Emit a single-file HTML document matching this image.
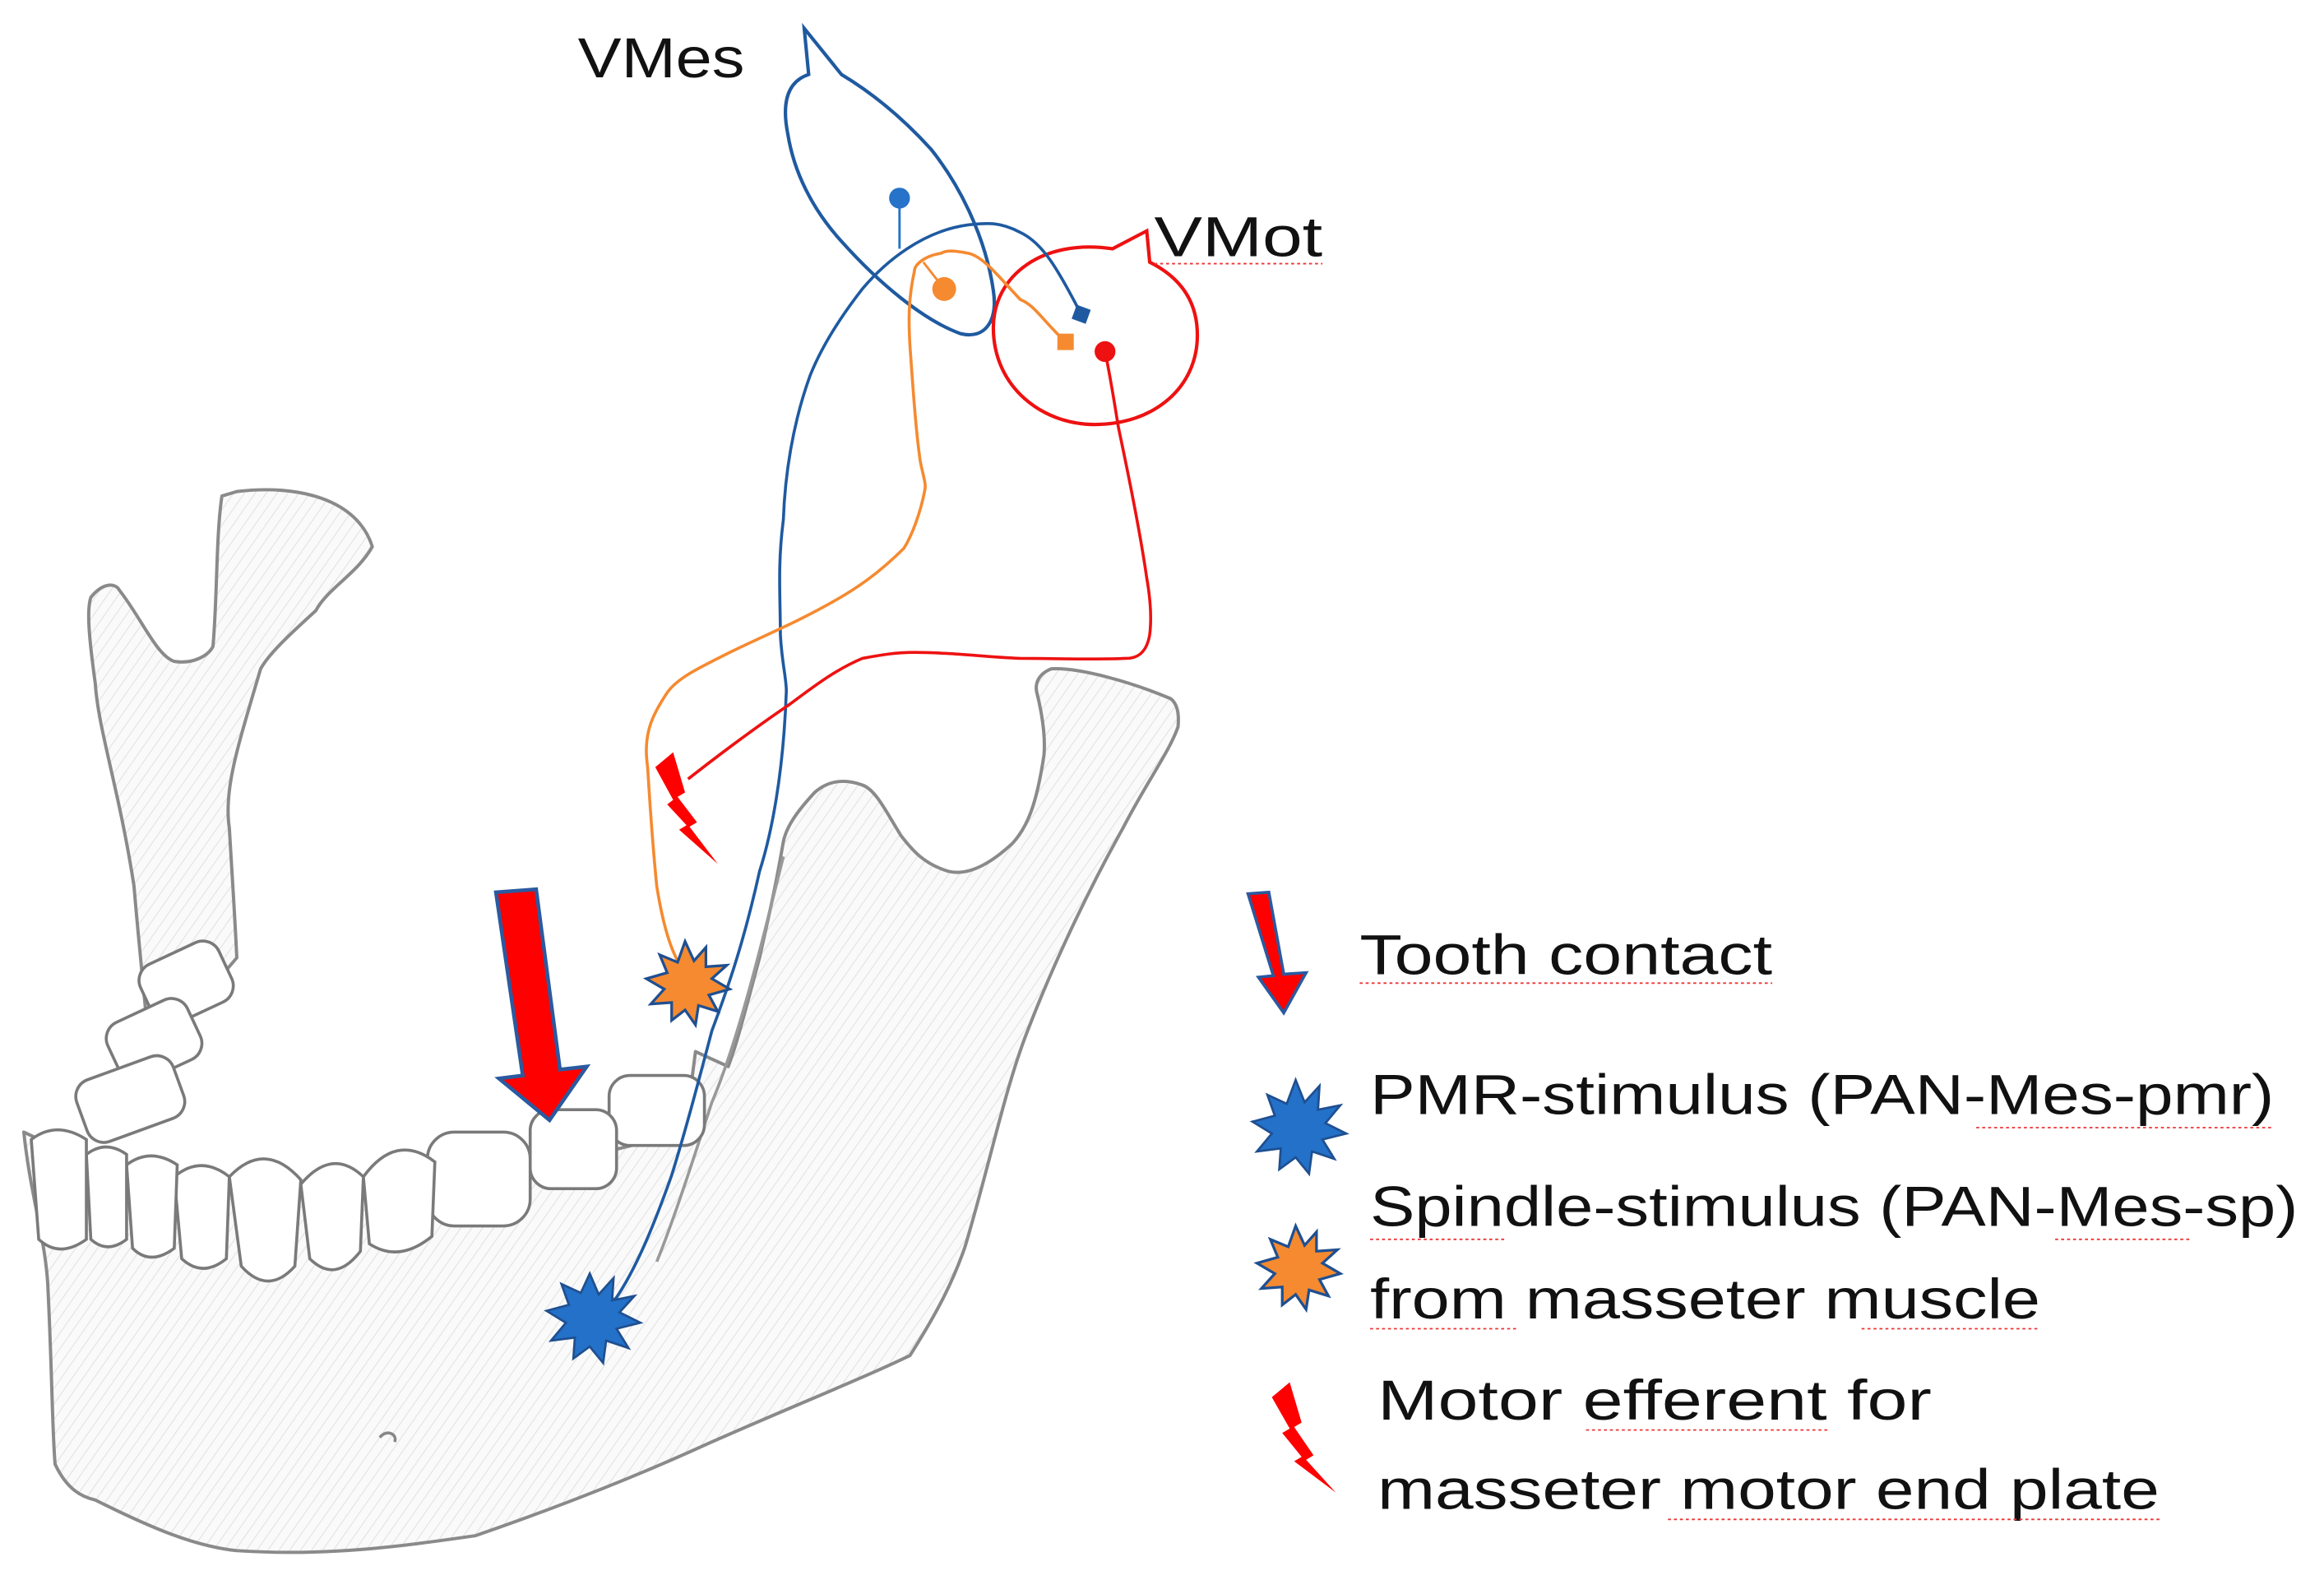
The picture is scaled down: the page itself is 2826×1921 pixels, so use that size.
<!DOCTYPE html>
<html><head><meta charset="utf-8"><style>html,body{margin:0;padding:0;background:#fff}svg{display:block}</style></head>
<body>
<svg width="2826" height="1921" viewBox="0 0 1560.5 1060.7" preserveAspectRatio="none" xmlns="http://www.w3.org/2000/svg">
<defs>
<pattern id="h" width="6" height="6" patternUnits="userSpaceOnUse" patternTransform="rotate(35)">
<rect width="6" height="6" fill="#fafafa"/><line x1="0" y1="0" x2="0" y2="6" stroke="#e2e2e2" stroke-width="1.2"/></pattern>
</defs>
<g stroke="#8a8a8a" stroke-width="2.2" fill="url(#h)" stroke-linejoin="round">
<path d="M159,330 C200,325 240,335 250,367 C240,385 220,395 212,410 C190,430 180,440 175,449 C160,500 150,530 154,556 C156,590 158,620 159,643 L101,711 C95,650 92,620 90,595 C80,530 66,490 64,459 C60,430 58,410 61,401 C70,390 78,392 80,396 C95,415 105,440 117,444 C130,446 140,440 143,434 C146,400 145,360 149,333 Z"/>
<path d="M16,760 C20,800 30,830 32,861 C35,920 35,960 37,983 C45,1000 55,1005 64,1007 C100,1025 130,1038 159,1041 C220,1045 270,1038 319,1031 C380,1010 430,990 478,968 C530,945 580,925 611,910 C630,880 640,860 648,837 C665,780 675,730 690,692 C710,640 735,590 754,556 C770,525 785,505 791,488 C792,478 790,472 786,469 C760,458 725,448 706,449 C698,452 695,458 696,464 C700,480 702,495 701,507 C696,540 690,555 680,566 C665,580 650,588 637,585 C620,580 612,570 605,561 C595,545 588,530 579,527 C565,522 555,525 547,532 C535,545 528,555 526,565 C520,600 515,620 510,643 C500,680 495,700 489,716 L467,706 L460,760 L300,800 L100,800 Z"/>
</g>
<path d="M526,575 C510,640 495,700 478,740 C465,780 452,820 441,847" stroke="#999" stroke-width="2" fill="none"/>
<path d="M255,965 c5,-6 12,-2 10,3" stroke="#888" stroke-width="2" fill="none"/>
<g stroke="#7a7a7a" stroke-width="2" fill="#fff">
<rect x="96" y="638" width="58" height="44" rx="12" transform="rotate(-25 125 660)"/>
<rect x="74" y="677" width="59" height="44" rx="12" transform="rotate(-25 103 699)"/>
<rect x="53" y="716" width="69" height="44" rx="12" transform="rotate(-20 87 738)"/>
<rect x="409" y="722" width="64" height="47" rx="14"/>
<rect x="356" y="745" width="58" height="53" rx="14"/>
<rect x="287" y="760" width="69" height="63" rx="18"/>
<path d="M244,790 Q266,760 292,780 L290,830 Q268,848 248,835 Z"/>
<path d="M202,795 Q223,770 244,790 L242,840 Q225,862 208,845 Z"/>
<path d="M154,790 Q178,765 202,792 L198,850 Q180,870 162,850 Z"/>
<path d="M117,790 Q135,775 154,790 L152,845 Q136,858 122,845 Z"/>
<path d="M85,782 Q101,770 119,782 L117,838 Q101,850 89,838 Z"/>
<path d="M58,775 Q71,765 85,775 L85,832 Q72,842 61,832 Z"/>
<path d="M21,765 Q38,752 58,765 L58,832 Q40,845 26,832 Z"/>
</g>
<path d="M540,19 L543,50 C528,55 525,70 529,90 C533,115 545,140 565,162 C590,190 620,215 645,224 C662,228 670,215 667,195 C662,160 645,125 625,100 C605,78 585,62 565,50 Z" fill="none" stroke="#1f5aa0" stroke-width="2.3"/>
<circle cx="604" cy="133" r="7" fill="#2673c9"/>
<line x1="604" y1="133" x2="604" y2="167" stroke="#2673c9" stroke-width="1.6"/>
<path d="M747,167 C700,160 667,185 667,220 C667,260 700,285 735,285 C775,285 804,260 804,225 C804,200 790,185 772,176 L770,155 Z" fill="none" stroke="#ee1111" stroke-width="2.3"/>
<circle cx="742" cy="236" r="7" fill="#ee1111"/>
<path d="M726,211 C710,180 700,163 685,156 C670,148 660,150 650,151 C620,155 595,175 579,194 C565,212 552,232 544,252 C532,285 527,320 526,349 C522,380 524,400 524,426 C525,445 528,455 528,464 C526,520 518,560 510,585 C500,630 490,660 478,692 C468,730 460,760 451,789 C440,820 428,850 414,871 L398,885" fill="none" stroke="#1f5aa0" stroke-width="2"/>
<rect x="721" y="206" width="10" height="10" fill="#1f5aa0" transform="rotate(20 726 211)"/>
<path d="M715,229 C700,215 695,205 685,201 C670,185 660,172 650,170 C640,168 635,168 632,170 C620,172 614,178 614,182 C610,200 610,215 611,232 C613,260 615,290 618,310 C620,320 622,325 621,329 C618,345 612,360 607,368 C590,385 575,395 561,403 C535,418 510,428 490,438 C470,448 455,455 448,465 C438,480 434,490 434,504 C434,510 435,515 435,517 C437,550 439,575 441,595 C445,620 450,635 454,643 L459,658" fill="none" stroke="#f58a30" stroke-width="2"/>
<line x1="620" y1="176" x2="634" y2="194" stroke="#f58a30" stroke-width="1.6"/>
<circle cx="634" cy="194" r="8" fill="#f58a30"/>
<rect x="710" y="224" width="11" height="11" fill="#f58a30"/>
<path d="M742,236 C746,255 749,275 751,287 C758,320 766,360 770,388 C773,405 773,418 772,426 C770,438 764,442 756,442 C735,443 710,442 685,442 C660,441 640,438 614,438 C600,438 590,440 579,442 C560,450 545,462 530,473 C505,490 485,505 462,523" fill="none" stroke="#ee1111" stroke-width="2"/>
<polygon points="440,515 452,505 460,532 455,535 468,552 463,555 482,580 456,557 461,554 448,540 452,537" fill="#ff0000"/>
<polygon points="333,599 360,597 376,718 394,716 369,752 335,724 351,722" fill="#ff0000" stroke="#2a5aa0" stroke-width="2.5"/>
<polygon points="838,600 852,599 862,654 877,653 862,680 845,656 855,655" fill="#ff0000" stroke="#2a5aa0" stroke-width="2"/>
<polygon points="854,938 866,928 874,955 869,958 882,977 877,980 897,1002 869,981 874,978 861,962 866,959" fill="#ff0000"/>
<g font-family="'Liberation Sans', sans-serif" fill="#111">
<text x="388" y="52" font-size="38" textLength="112" lengthAdjust="spacingAndGlyphs">VMes</text>
<text x="775" y="172" font-size="38" textLength="113" lengthAdjust="spacingAndGlyphs">VMot</text>
<text x="913" y="654" font-size="38" textLength="277" lengthAdjust="spacingAndGlyphs">Tooth contact</text>
<text x="920" y="748" font-size="38" textLength="607" lengthAdjust="spacingAndGlyphs">PMR-stimulus (PAN-Mes-pmr)</text>
<text x="920" y="823" font-size="38" textLength="623" lengthAdjust="spacingAndGlyphs">Spindle-stimulus (PAN-Mes-sp)</text>
<text x="920" y="885" font-size="38" textLength="450" lengthAdjust="spacingAndGlyphs">from masseter muscle</text>
<text x="925" y="953" font-size="38" textLength="372" lengthAdjust="spacingAndGlyphs">Motor efferent for</text>
<text x="925" y="1013" font-size="38" textLength="525" lengthAdjust="spacingAndGlyphs">masseter motor end plate</text>
</g>
<g stroke="#e33" stroke-width="1" fill="none" stroke-dasharray="2 2">
<line x1="775" y1="177" x2="888" y2="177"/><line x1="913" y1="660" x2="1190" y2="660"/>
<line x1="1327" y1="757" x2="1527" y2="757"/><line x1="920" y1="832" x2="1010" y2="832"/><line x1="1380" y1="832" x2="1470" y2="832"/>
<line x1="920" y1="892" x2="1018" y2="892"/><line x1="1250" y1="892" x2="1370" y2="892"/>
<line x1="1065" y1="960" x2="1228" y2="960"/><line x1="1120" y1="1020" x2="1450" y2="1020"/>
</g>
<polygon points="396,855 402,869 412,858 411,873 426,870 416,881 430,888 414,892 422,905 407,900 405,915 396,904 385,912 386,898 370,900 380,888 367,880 382,876 377,862 390,868" fill="#2371c8" stroke="#1f4f90" stroke-width="1.5"/>
<polygon points="460,632 466,645 474,636 474,649 488,648 478,657 490,664 476,668 482,679 469,675 467,688 460,678 451,685 451,673 437,674 446,664 434,657 448,653 443,641 455,646" fill="#f58a30" stroke="#1f4f90" stroke-width="1.8"/>
<polygon points="870,725 876,740 886,729 885,745 900,742 890,754 904,761 888,765 896,778 881,773 879,788 870,777 859,785 860,771 844,773 854,761 841,753 856,749 851,735 864,741" fill="#2371c8" stroke="#1f4f90" stroke-width="1.5"/>
<polygon points="870,823 876,836 884,827 884,840 898,839 888,848 900,855 886,859 892,870 879,866 877,879 870,869 861,876 861,864 847,865 856,855 844,848 858,844 853,832 865,837" fill="#f58a30" stroke="#1f4f90" stroke-width="1.8"/>
</svg>
</body></html>
